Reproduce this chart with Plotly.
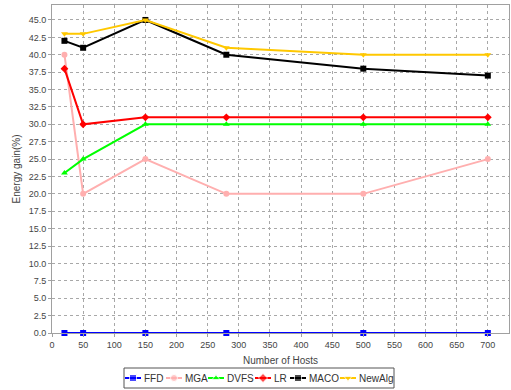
import plotly.graph_objects as go

# Number of hosts on the x axis
hosts = [20, 50, 150, 280, 500, 700]

# Energy gain (%) per algorithm
ffd = [0, 0, 0, 0, 0, 0]
mga = [40, 20, 25, 20, 20, 25]
dvfs = [23, 25, 30, 30, 30, 30]
lr = [38, 30, 31, 31, 31, 31]
maco = [42, 41, 45, 40, 38, 37]
newalg = [43, 43, 45, 41, 40, 40]

series_names = ["FFD", "MGA", "DVFS", "LR", "MACO", "NewAlg"]
series_values = [ffd, mga, dvfs, lr, maco, newalg]
series_colors = ["#0000FF", "#FFAFAF", "#00FF00", "#FF0000", "#000000", "#FFC800"]
series_symbols = ["square", "circle", "triangle-up", "diamond", "square", "triangle-down"]

# Canvas geometry (pixels)
W, H = 511, 390
PLOT_L, PLOT_R, PLOT_T, PLOT_B = 52, 509, 5, 333

# Legend row layout: left edge of each swatch (pixels), swatch length, box extent
legend_swatch_x = [125, 166, 208, 255, 290, 340]
swatch_len = 16
legend_box = (124, 394, 368, 388)
legend_mid_y = 378

fig = go.Figure()
for name, vals, color, symbol in zip(series_names, series_values, series_colors, series_symbols):
    fig.add_trace(go.Scatter(
        x=hosts, y=vals, name=name, mode="lines+markers",
        line=dict(color=color, width=2),
        marker=dict(color=color, symbol=symbol, size=6),
        cliponaxis=False, showlegend=False,
    ))

# Hand-built legend row drawn on a hidden pixel-scaled axis pair
for name, color, symbol, sx in zip(series_names, series_colors, series_symbols, legend_swatch_x):
    fig.add_trace(go.Scatter(
        x=[sx, sx + swatch_len / 2, sx + swatch_len],
        y=[legend_mid_y] * 3,
        xaxis="x2", yaxis="y2", mode="lines+markers",
        line=dict(color=color, width=2),
        marker=dict(color=color, symbol=symbol, size=[0, 7, 0]),
        showlegend=False, hoverinfo="skip", cliponaxis=False,
    ))
    fig.add_annotation(
        x=sx + swatch_len + 1, y=legend_mid_y, xref="x2", yref="y2",
        text=name, showarrow=False, xanchor="left", yanchor="middle",
        font=dict(size=10, color="#333333"),
    )

fig.add_shape(
    type="rect", xref="x2", yref="y2",
    x0=legend_box[0], x1=legend_box[1], y0=legend_box[2], y1=legend_box[3],
    line=dict(color="#555555", width=1), fillcolor="rgba(0,0,0,0)", layer="below",
)

axis_common = dict(
    showgrid=True, gridcolor="#A8A8A8", griddash="dot", gridwidth=1,
    showline=True, linecolor="#A0A0A0", linewidth=1, mirror=True,
    ticks="outside", ticklen=3, tickcolor="#A0A0A0",
    zeroline=False, automargin=False,
    tickfont=dict(size=9, color="#444444"),
)

area_h = H - PLOT_T
main_y_bottom = (H - PLOT_B) / area_h

fig.update_layout(
    width=W, height=H,
    margin=dict(l=PLOT_L, r=W - PLOT_R, t=PLOT_T, b=0, autoexpand=False),
    paper_bgcolor="white", plot_bgcolor="rgba(0,0,0,0)",
    font=dict(family="Liberation Sans, Arial, sans-serif", size=10, color="#444444"),
    showlegend=False,
    xaxis=dict(range=[0, 734], dtick=50, tick0=0, anchor="y",
               title=dict(text="Number of Hosts", font=dict(size=10), standoff=8),
               **axis_common),
    yaxis=dict(range=[0, 47.15], dtick=2.5, tick0=0, tickformat=".1f",
               domain=[main_y_bottom, 1], anchor="x",
               title=dict(text="Energy gain(%)", font=dict(size=10), standoff=6),
               **axis_common),
    xaxis2=dict(domain=[0, 1], range=[PLOT_L, PLOT_R], anchor="y2", visible=False,
                fixedrange=True),
    yaxis2=dict(domain=[0, main_y_bottom], range=[H, PLOT_B], anchor="x2", visible=False,
                fixedrange=True),
)

fig.write_html("out.html")
